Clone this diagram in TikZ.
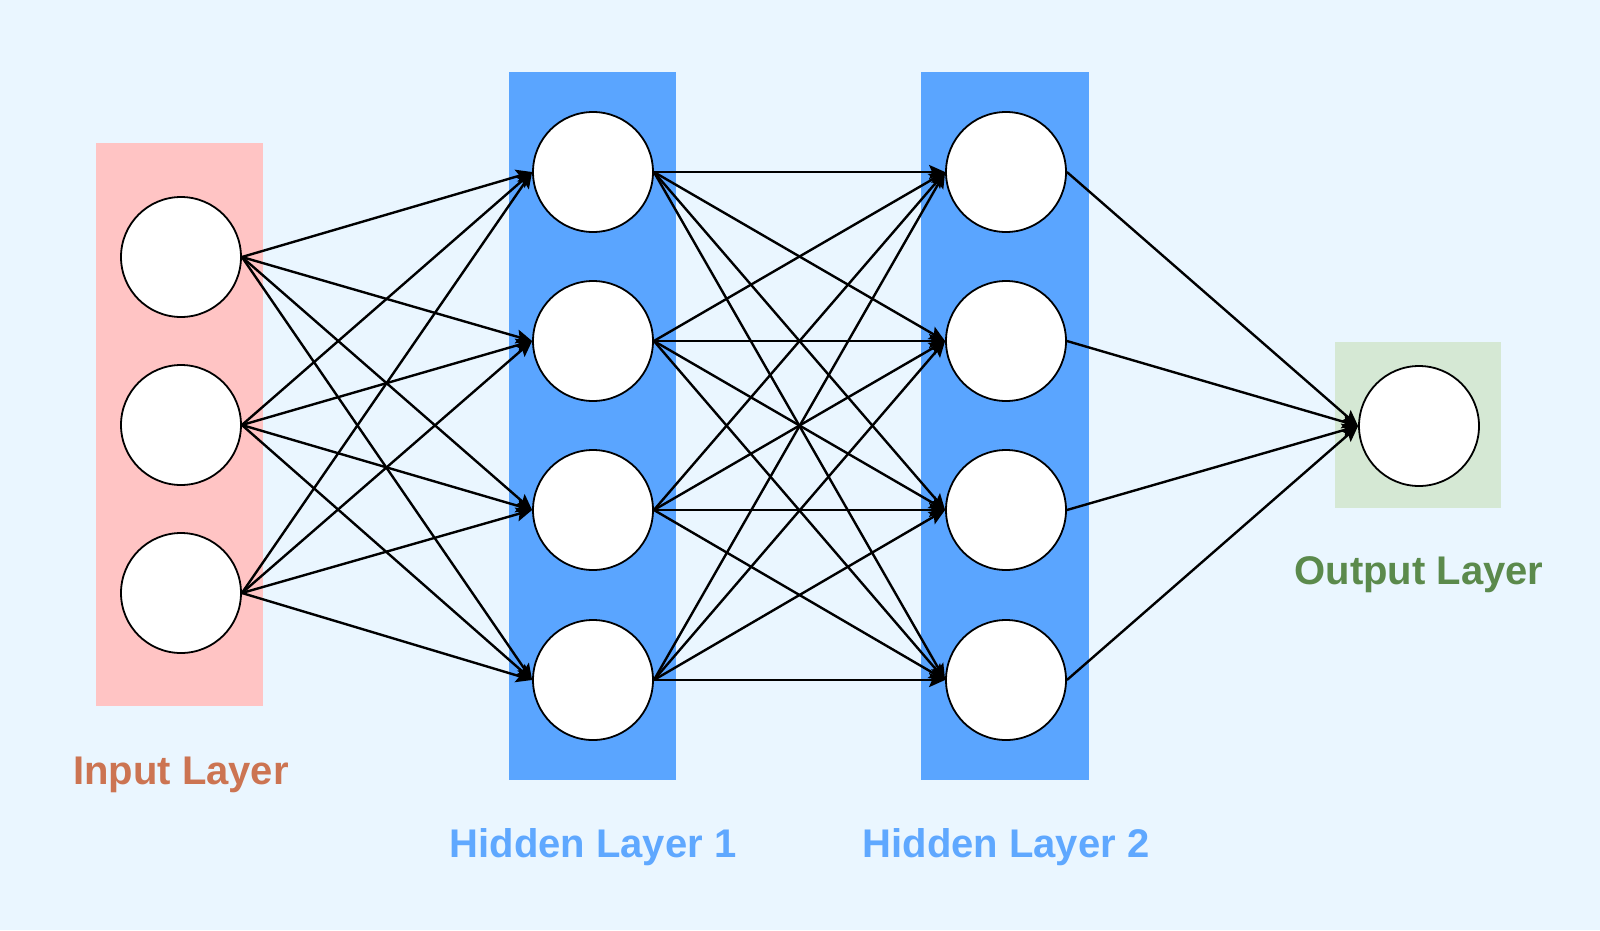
\documentclass[tikz,border=0pt]{standalone}
\usepackage{fontspec}
\setmainfont{Liberation Sans}
\usetikzlibrary{arrows.meta}
\definecolor{bg}{HTML}{EAF6FF}
\definecolor{inbox}{HTML}{FFC4C4}
\definecolor{hidbox}{HTML}{5AA5FF}
\definecolor{outbox}{HTML}{D5E8D4}
\definecolor{intxt}{HTML}{CC7452}
\definecolor{hidtxt}{HTML}{5FA8FF}
\definecolor{outtxt}{HTML}{5B8A4C}
\tikzset{
  neuron/.style={circle,draw=black,line width=1.8pt,fill=white,minimum size=120pt,inner sep=0pt},
  conn/.style={line width=2.4pt,-{Stealth[length=16pt,width=14pt,inset=3pt]}},
  lbl/.style={font=\bfseries\fontsize{40}{44}\selectfont,anchor=base}
}
\begin{document}
\begin{tikzpicture}[x=1pt,y=-1pt]
\fill[bg] (0,0) rectangle (1600,930);
\useasboundingbox (0,0) rectangle (1600,930);
\fill[inbox] (96,143) rectangle (263,706);
\fill[hidbox] (509,72) rectangle (676,780);
\fill[hidbox] (921,72) rectangle (1089,780);
\fill[outbox] (1335,342) rectangle (1501,508);
% neurons
\node[neuron] (i1) at (181,257) {};
\node[neuron] (i2) at (181,425) {};
\node[neuron] (i3) at (181,593) {};
\foreach \k/\y in {1/172,2/341,3/510,4/680}{
  \node[neuron] (a\k) at (593,\y) {};
  \node[neuron] (b\k) at (1006,\y) {};
}
\node[neuron] (o1) at (1419,426) {};
% connections
\foreach \s in {1,2,3}{\foreach \t in {1,2,3,4}{\draw[conn] (i\s.east) -- (a\t.west);}}
\foreach \s in {1,2,3,4}{\foreach \t in {1,2,3,4}{\draw[conn] (a\s.east) -- (b\t.west);}}
\foreach \s in {1,2,3,4}{\draw[conn] (b\s.east) -- (o1.west);}
% labels
\node[lbl,text=intxt] (lin) at (181,784) {Input Layer};
\node[lbl,text=hidtxt] (lh1) at (593,857) {Hidden Layer 1};
\node[lbl,text=hidtxt] (lh2) at (1006,857) {Hidden Layer 2};
\node[lbl,text=outtxt] (lout) at (1419,584) {Output Layer};
\end{tikzpicture}
\end{document}
